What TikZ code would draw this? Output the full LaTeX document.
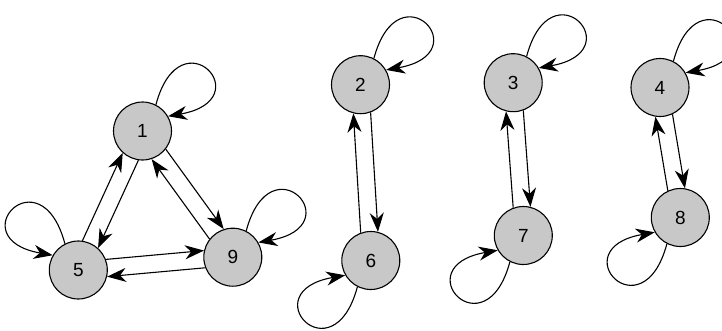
\documentclass[tikz,border=0pt]{standalone}
\usepackage{fontspec}
\setmainfont{Liberation Sans}
\usetikzlibrary{arrows.meta}
\definecolor{nodegray}{RGB}{200,200,200}
\tikzset{
  st/.style={circle, draw, fill=nodegray, minimum size=58pt, inner sep=0pt,
    font=\fontsize{19}{19}\selectfont, line width=1.1pt},
  ed/.style={-{Stealth[length=19pt,width=14pt,inset=6pt]}, line width=1.1pt}
}
\begin{document}
\begin{tikzpicture}[x=1pt,y=1pt]
\useasboundingbox (0,0) rectangle (722,330);
\clip (0,0) rectangle (722,330);
\node[st] (n1) at (142.5,199) {1};
\node[st] (n5) at (78.3,60) {5};
\node[st] (n9) at (232.8,72.8) {9};
\node[st] (n2) at (360.5,245.3) {2};
\node[st] (n6) at (370.8,69.5) {6};
\node[st] (n3) at (513.2,247.3) {3};
\node[st] (n7) at (523.3,94.5) {7};
\node[st] (n4) at (660,242.5) {4};
\node[st] (n8) at (680.3,112.5) {8};
% edges
\draw[ed] (n1.262.2) -- (n5.48.2);
\draw[ed] (n5.82.2) -- (n1.228.2);
\draw[ed] (n1.322.6) -- (n9.108.6);
\draw[ed] (n9.142.6) -- (n1.288.6);
\draw[ed] (n5.21.7) -- (n9.167.7);
\draw[ed] (n9.201.7) -- (n5.347.7);
\draw[ed] (n2.290.4) -- (n6.76.4);
\draw[ed] (n6.110.4) -- (n2.256.4);
\draw[ed] (n3.290.8) -- (n7.76.8);
\draw[ed] (n7.110.8) -- (n3.256.8);
\draw[ed] (n4.295.9) -- (n8.81.9);
\draw[ed] (n8.115.9) -- (n4.261.9);
% loops upper right
\draw[ed] (n1.63) .. controls +(75:95) and +(10:95) .. (n1.30);
\draw[ed] (n9.63) .. controls +(75:95) and +(10:95) .. (n9.30);
\draw[ed] (n2.63) .. controls +(75:95) and +(10:95) .. (n2.30);
\draw[ed] (n3.63) .. controls +(75:95) and +(10:95) .. (n3.30);
\draw[ed] (n4.63) .. controls +(75:95) and +(10:95) .. (n4.30);
% loop upper left
\draw[ed] (n5.117) .. controls +(105:95) and +(170:95) .. (n5.150);
% loops lower left
\draw[ed] (n6.243) .. controls +(255:95) and +(190:95) .. (n6.210);
\draw[ed] (n7.243) .. controls +(255:95) and +(190:95) .. (n7.210);
\draw[ed] (n8.243) .. controls +(255:95) and +(190:95) .. (n8.210);
\end{tikzpicture}
\end{document}
